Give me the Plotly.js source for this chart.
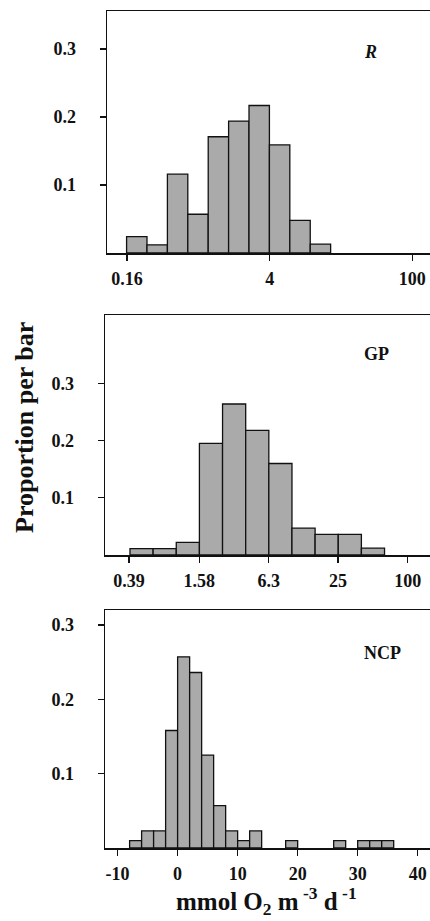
<!DOCTYPE html>
<html>
<head>
<meta charset="utf-8">
<script src="https://cdn.plot.ly/plotly-3.0.1.min.js"></script>
<style>html,body{margin:0;padding:0;background:#fff;}#chart{width:430px;height:921px;}</style>
</head>
<body>
<div id="chart"></div>
<script>
// ---- Data ----
// R panel: bins of width 0.2 in log10 units, lower edges
const rLogBinStart = [-0.8, -0.6, -0.4, -0.2, 0.0, 0.2, 0.4, 0.6, 0.8, 1.0];
const rProp = [0.024, 0.012, 0.116, 0.057, 0.171, 0.194, 0.217, 0.159, 0.048, 0.013];
const rTickLabels = [0.16, 4, 100];

// GP panel: bins of width 0.2 in log10 units, lower edges
const gpLogBinStart = [-0.4, -0.2, 0.0, 0.2, 0.4, 0.6, 0.8, 1.0, 1.2, 1.4, 1.6];
const gpProp = [0.011, 0.011, 0.022, 0.195, 0.264, 0.218, 0.160, 0.047, 0.036, 0.036, 0.012];
const gpTickLabels = [0.39, 1.58, 6.3, 25, 100];

// NCP panel: linear bins of width 2, lower edges
const ncpBinStart = [-8, -6, -4, -2, 0, 2, 4, 6, 8, 10, 12, 18, 26, 30, 32, 34];
const ncpProp = [0.010, 0.023, 0.023, 0.158, 0.257, 0.236, 0.125, 0.057, 0.023, 0.010, 0.023, 0.010, 0.010, 0.010, 0.010, 0.010];
const ncpTickLabels = [-10, 0, 10, 20, 30, 40];

const yTickVals = [0.1, 0.2, 0.3];
const logBinWidth = 0.2;
const ncpBinWidth = 2;

// ---- Styling ----
const W = 430, H = 921;
const fontFam = 'Liberation Serif, Times New Roman, serif';
const barStyle = {color: '#aaaaaa', line: {color: '#111', width: 1.3}};

function bars(starts, vals, w, xa, ya) {
  return {
    type: 'bar',
    x: starts.map(s => s + w / 2),
    y: vals,
    width: starts.map(() => w),
    marker: barStyle,
    xaxis: xa, yaxis: ya,
    hoverinfo: 'skip',
    showlegend: false
  };
}

const data = [
  bars(rLogBinStart, rProp, logBinWidth, 'x', 'y'),
  bars(gpLogBinStart, gpProp, logBinWidth, 'x2', 'y2'),
  bars(ncpBinStart, ncpProp, ncpBinWidth, 'x3', 'y3')
];

const tickFont = {family: fontFam, size: 18, weight: 'bold', color: '#111'};

function xAxis(dom, rng, tv, tt, anchor) {
  return {
    domain: dom, range: rng, anchor: anchor,
    tickvals: tv, ticktext: tt,
    ticks: 'outside', ticklen: 6, tickwidth: 1.3, tickcolor: '#111',
    ticklabelstandoff: 3,
    showline: true, linecolor: '#111', linewidth: 1.5, mirror: true,
    showgrid: false, zeroline: false,
    tickfont: tickFont, fixedrange: true
  };
}
function yAxis(domPx, rng, anchor) {
  return {
    domain: [1 - domPx[1] / H, 1 - domPx[0] / H], range: rng, anchor: anchor,
    tickvals: yTickVals, ticktext: yTickVals.map(v => v.toFixed(1)),
    ticks: 'outside', ticklen: 6, tickwidth: 1.3, tickcolor: '#111',
    ticklabelstandoff: 20,
    showline: true, linecolor: '#111', linewidth: 1.5,
    showgrid: false, zeroline: false,
    tickfont: tickFont, fixedrange: true
  };
}

const layout = {
  width: W, height: H,
  margin: {l: 0, r: 0, t: 0, b: 0},
  paper_bgcolor: '#fff', plot_bgcolor: '#fff',
  bargap: 0,
  xaxis: xAxis([107 / W, 1], [-0.992, 2.174], rTickLabels.map(Math.log10), rTickLabels.map(String), 'y'),
  yaxis: yAxis([11, 253], [0, 0.356], 'x'),
  xaxis2: xAxis([105 / W, 1], [-0.616, 2.193], gpTickLabels.map(Math.log10), gpTickLabels.map(String), 'y2'),
  yaxis2: yAxis([315, 555], [0, 0.4196], 'x2'),
  xaxis3: xAxis([105 / W, 1], [-12.1, 42.05], ncpTickLabels, ncpTickLabels.map(String), 'y3'),
  yaxis3: yAxis([610, 848], [0, 0.32], 'x3'),
  annotations: [
    {text: '<i>R</i>', x: 362 / W, y: 1 - 52 / H, xref: 'paper', yref: 'paper', xanchor: 'left', yanchor: 'middle', showarrow: false,
     font: {family: fontFam, size: 18, weight: 'bold', color: '#111'}},
    {text: 'GP', x: 362 / W, y: 1 - 354 / H, xref: 'paper', yref: 'paper', xanchor: 'left', yanchor: 'middle', showarrow: false,
     font: {family: fontFam, size: 18, weight: 'bold', color: '#111'}},
    {text: 'NCP', x: 362 / W, y: 1 - 653 / H, xref: 'paper', yref: 'paper', xanchor: 'left', yanchor: 'middle', showarrow: false,
     font: {family: fontFam, size: 18, weight: 'bold', color: '#111'}},
    {text: 'Proportion per bar', x: 24 / W, y: 1 - 428 / H, xref: 'paper', yref: 'paper', xanchor: 'center', yanchor: 'middle', textangle: -90, showarrow: false,
     font: {family: fontFam, size: 26, weight: 'bold', color: '#111'}},
    {text: 'mmol O<sub>2</sub> m<sup> -3</sup> d<sup> -1</sup>', x: 266 / W, y: 1 - 901 / H, xref: 'paper', yref: 'paper', xanchor: 'center', yanchor: 'middle', showarrow: false,
     font: {family: fontFam, size: 25, weight: 'bold', color: '#111'}}
  ]
};

Plotly.newPlot('chart', data, layout, {displayModeBar: false, staticPlot: true});
</script>
</body>
</html>
